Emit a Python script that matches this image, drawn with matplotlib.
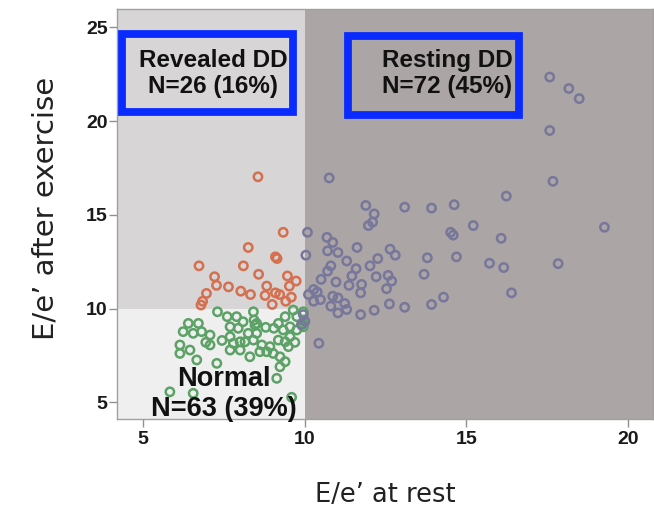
import matplotlib
matplotlib.use("Agg")
import matplotlib.pyplot as plt
from matplotlib.patches import Rectangle

# ---------------- data ----------------
normal_x = [7.31, 7.61, 7.90, 8.42, 8.44, 8.47, 8.52, 9.40, 9.65, 9.76, 9.96, 9.95,
            6.41, 6.72, 6.25, 6.56, 6.82, 7.08, 7.70, 7.95, 8.26, 8.52, 9.19, 9.34,
            9.55, 9.76, 9.96, 6.15, 6.46, 7.08, 7.70, 7.80, 8.01, 8.16, 8.42, 8.68,
            8.93, 9.19, 9.40, 9.55, 6.15, 6.67, 7.29, 7.70, 8.01, 8.31, 8.62, 8.83,
            9.03, 9.24, 9.40, 9.24, 9.50, 5.84, 6.56, 9.14, 9.60, 8.10, 6.95, 7.45,
            9.05, 8.80, 9.70]
normal_y = [9.83, 9.57, 9.57, 9.83, 9.39, 9.12, 9.21, 9.57, 9.92, 9.57, 9.83, 9.21,
            9.21, 9.21, 8.77, 8.68, 8.77, 8.59, 9.03, 8.95, 8.68, 8.68, 9.21, 8.86,
            9.03, 8.86, 9.03, 8.06, 7.79, 8.06, 8.50, 8.15, 8.23, 8.23, 8.32, 8.06,
            7.97, 8.32, 8.23, 8.50, 7.61, 7.26, 7.08, 7.79, 7.79, 7.43, 7.70, 7.70,
            7.61, 7.43, 7.17, 6.90, 7.97, 5.56, 5.48, 6.28, 5.27, 9.30, 8.20, 8.30,
            8.95, 9.00, 8.20]

revealed_x = [8.56, 9.34, 8.26, 9.10, 9.15, 6.74, 8.11, 8.58, 7.22, 9.47, 9.74, 7.28,
              7.65, 8.03, 8.33, 6.97, 8.78, 9.10, 9.23, 9.53, 9.59, 6.85, 6.80, 9.00,
              9.42, 8.83]
revealed_y = [17.03, 14.07, 13.26, 12.76, 12.67, 12.28, 12.28, 11.83, 11.70, 11.74,
              11.47, 11.24, 11.16, 10.93, 10.75, 10.81, 10.70, 10.84, 10.75, 11.20,
              10.61, 10.39, 10.19, 10.22, 10.39, 11.20]

resting_x = [17.57, 18.16, 18.48, 17.57, 17.67, 19.26, 17.83, 16.23, 16.07, 16.15,
             16.39, 15.71, 15.21, 14.62, 14.51, 14.59, 14.69, 13.79, 13.69, 13.92,
             13.09, 14.29, 13.92, 13.09, 12.62, 12.15, 11.73, 11.89, 12.15, 12.10,
             11.97, 11.62, 12.64, 12.80, 12.26, 12.02, 11.59, 12.21, 12.58, 12.69,
             12.53, 11.76, 11.73, 11.37, 10.76, 10.09, 10.69, 10.87, 10.71, 11.03,
             10.04, 10.81, 11.30, 10.97, 10.51, 10.39, 10.12, 10.28, 10.49, 10.81,
             11.03, 11.30, 11.24, 11.03, 10.87, 10.44, 9.96, 10.01, 10.71, 11.46,
             10.28, 9.90]
resting_y = [22.35, 21.74, 21.20, 19.50, 16.79, 14.34, 12.40, 16.00, 13.75, 12.19,
             10.84, 12.42, 14.43, 15.54, 14.07, 13.92, 12.76, 12.71, 11.83, 15.36,
             15.41, 10.61, 10.22, 10.07, 10.25, 9.91, 9.68, 15.50, 15.05, 14.61,
             14.43, 13.26, 13.17, 12.85, 12.67, 12.28, 12.13, 11.70, 11.77, 11.47,
             11.06, 11.29, 10.84, 11.24, 16.97, 14.07, 13.80, 13.53, 13.08, 12.99,
             12.85, 12.28, 12.54, 11.42, 11.56, 10.88, 10.75, 10.39, 10.48, 10.13,
             9.77, 9.95, 10.27, 10.57, 10.66, 8.15, 9.68, 9.32, 12.00, 11.74,
             11.02, 9.14]

rest_cut = 10      # E/e' at rest threshold
exercise_cut = 10  # E/e' after exercise threshold

x_ticks = [5, 10, 15, 20]
y_ticks = [5, 10, 15, 20, 25]

labels = {
    "revealed": "Revealed DD\nN=26 (16%)",
    "resting": "Resting DD\nN=72 (45%)",
    "normal": "Normal\nN=63 (39%)",
}
xlabel = "E/e\u2019 at rest"
ylabel = "E/e\u2019 after exercise"

# ---------------- figure ----------------
fig = plt.figure(figsize=(6.54, 5.12), dpi=100)
ax = fig.add_axes([0.1784, 0.1816, 0.8201, 0.8008])
xlim = (4.197, 20.76)
ylim = (4.11, 25.98)
ax.set_xlim(*xlim)
ax.set_ylim(*ylim)

# region backgrounds
ax.add_patch(Rectangle((xlim[0], exercise_cut), rest_cut - xlim[0], ylim[1] - exercise_cut,
                       facecolor="#d8d5d6", edgecolor="none", zorder=0))
ax.add_patch(Rectangle((xlim[0], ylim[0]), rest_cut - xlim[0], exercise_cut - ylim[0],
                       facecolor="#f0efef", edgecolor="none", zorder=0))
ax.add_patch(Rectangle((rest_cut, ylim[0]), xlim[1] - rest_cut, ylim[1] - ylim[0],
                       facecolor="#aca5a5", edgecolor="none", zorder=0))

ms = 36
lw = 1.8
ax.scatter(normal_x, normal_y, s=ms, facecolors="none", edgecolors="#5ca266",
           linewidths=lw, zorder=3)
ax.scatter(revealed_x, revealed_y, s=ms, facecolors="none", edgecolors="#d4704f",
           linewidths=lw, zorder=3)
ax.scatter(resting_x, resting_y, s=ms, facecolors="none", edgecolors="#77779b",
           linewidths=lw, zorder=3)

# blue highlight boxes
box_kw = dict(facecolor="none", edgecolor="#0a2bff", linewidth=5.6, zorder=4)
ax.add_patch(Rectangle((4.35, 20.48), 9.64 - 4.35, 24.63 - 20.48, **box_kw))
ax.add_patch(Rectangle((11.33, 20.35), 16.62 - 11.33, 24.52 - 20.35, **box_kw))

bold_font = dict(family=["Liberation Sans", "DejaVu Sans"], weight="bold", color="#111111")
ax.text(7.17, 22.55, labels["revealed"], ha="center", va="center", fontsize=17.5,
        linespacing=1.2, zorder=5, **bold_font)
ax.text(14.41, 22.55, labels["resting"], ha="center", va="center", fontsize=17.5,
        linespacing=1.2, zorder=5, **bold_font)
ax.text(7.52, 5.42, labels["normal"], ha="center", va="center", fontsize=19.5,
        linespacing=1.2, zorder=5, **bold_font)

# axes styling
for sp in ax.spines.values():
    sp.set_color("#a0a0a0")
    sp.set_linewidth(1.0)
ax.set_xticks(x_ticks)
ax.set_yticks(y_ticks)
ax.tick_params(axis="both", length=5.5, width=1, color="#909090", labelsize=14,
               labelcolor="#1a1a1a")
ax.tick_params(axis="x", pad=3)
ax.tick_params(axis="y", pad=1)
for lab in ax.get_xticklabels() + ax.get_yticklabels():
    lab.set_fontweight("bold")
    lab.set_family(["Liberation Sans", "DejaVu Sans"])

fig.text(385 / 654, 1 - 495 / 512, xlabel, ha="center", va="center", fontsize=18.5,
         family="DejaVu Sans", color="#222222")
fig.text(46 / 654, 1 - 208 / 512, ylabel, ha="center", va="center", rotation=90,
         fontsize=21, family="DejaVu Sans", color="#222222")

fig.savefig("out.png", dpi=100)
